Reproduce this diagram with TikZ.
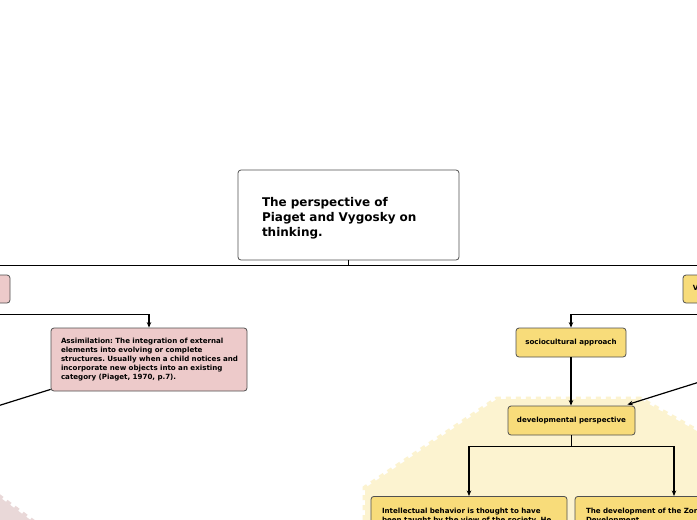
\documentclass[tikz,border=0pt]{standalone}
\usepackage{fontspec}
\setmainfont{DejaVu Sans}
\usetikzlibrary{arrows.meta,calc}
\definecolor{pinkfill}{HTML}{EDCACA}
\definecolor{yelfill}{HTML}{F8DC7A}
\definecolor{yelbg}{HTML}{FCF3D0}
\definecolor{pinkbg}{HTML}{E9D8D8}
\definecolor{edge}{HTML}{505050}
\frenchspacing
\begin{document}
\begin{tikzpicture}[x=1pt,y=-1pt,
  box/.style={draw=edge, line width=0.8pt, rounded corners=3pt, inner sep=0pt,
    font=\bfseries\fontsize{7.1}{9}\selectfont},
  pinkbox/.style={box, fill=pinkfill},
  yelbox/.style={box, fill=yelfill},
  titlebox/.style={box, fill=white, font=\bfseries\fontsize{12}{15}\selectfont},
  conn/.style={line width=1.2pt, black},
  arr/.style={conn, -{Stealth[length=5.5pt,width=4.5pt]}},
  jag/.style={line width=5pt, dash pattern=on 5pt off 5pt}]
\useasboundingbox (0,0) rectangle (697,520);
\clip (0,0) rectangle (697,520);
\fill[white] (0,0) rectangle (697,520);
% background blobs
\fill[yelbg] (365,540) -- (365,488) -- (497,399) -- (640,399) -- (720,444) -- (720,540) -- cycle;
\draw[yelbg, jag] (365,540) -- (365,488) -- (497,399) -- (640,399) -- (720,444);
\fill[pinkbg] (-10,490) -- (40,527) -- (-10,527) -- cycle;
\draw[pinkbg, jag] (-10,490) -- (40,527);
% nodes
\node[titlebox, minimum width=221pt, minimum height=90pt, text width=173pt, align=left] (title) at (348.5,215)
  {\rule{0pt}{15pt}The perspective of\\Piaget and Vygosky on\\thinking.};
\node[pinkbox, minimum width=70pt, minimum height=28pt] (piaget) at (-25,289) {};
\node[yelbox, minimum width=57pt, minimum height=28pt] (vyg) at (711.5,289) {Vygotsky};
\node[pinkbox, minimum width=196pt, minimum height=63pt, text width=176pt, align=left] (assim) at (149,359.5)
  {\mbox{Assimilation: The integration of external}\\
   \mbox{elements into evolving or complete}\\
   \mbox{structures. Usually when a child notices and}\\
   \mbox{incorporate new objects into an existing}\\
   \mbox{category (Piaget, 1970, p.7).}};
\node[yelbox, minimum width=110pt, minimum height=29pt] (socio) at (571,342.5) {sociocultural approach};
\node[yelbox, minimum width=127pt, minimum height=29pt] (devel) at (571.5,420.5) {developmental perspective};
\node[yelbox, anchor=north, text width=174pt, inner xsep=11pt, inner ysep=11.5pt, align=left] (intel) at (469,496)
  {\mbox{Intellectual behavior is thought to have}\\
   \mbox{been taught by the view of the society. He}};
\node[yelbox, anchor=north, text width=176pt, inner xsep=11pt, inner ysep=11.5pt, align=left] (zone) at (674,496)
  {\mbox{The development of the Zone of Proximal}\\
   \mbox{Development}};
% connectors
\draw[conn] (title.south) -- ++(0,5) coordinate (hub);
\draw[arr] (hub) -| (piaget.north);
\draw[arr] (hub) -| (vyg.north);
\draw[arr] (piaget.south) -- ++(0,11) -| (assim.north);
\draw[arr] (vyg.south) -- ++(0,11) -| (socio.north);
\draw[arr] (socio.south) -- (socio.south |- devel.north);
\coordinate (offR) at (760,363);
\draw[arr] (offR) -- ($(devel.north east)+(-8,-1)$);
\coordinate (offL) at (-60,424);
\draw[conn] ($(assim.south west)+(0,-2)$) -- (offL);
\draw[conn] (devel.south) -- ++(0,11) coordinate (dhub);
\draw[arr] (dhub) -| (intel.north);
\draw[arr] (dhub) -| (zone.north);
\end{tikzpicture}
\end{document}
